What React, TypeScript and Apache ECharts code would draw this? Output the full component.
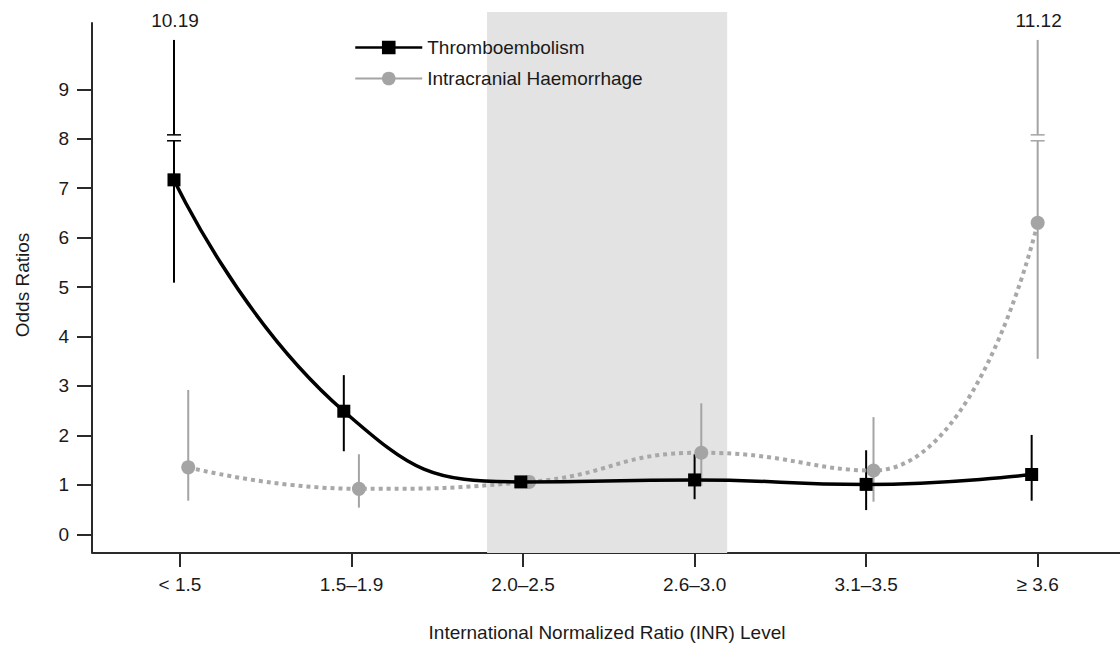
import React, { useEffect, useRef } from "react";
import * as echarts from "echarts";

// ---- data ----
const categories = ["< 1.5", "1.5–1.9", "2.0–2.5", "2.6–3.0", "3.1–3.5", "≥ 3.6"];
const categoryPos = [1, 2, 3, 4, 5, 6];

const teName = "Thromboembolism";
const teX = [0.965, 1.955, 2.987, 4.0, 5.0, 5.965];
const teOR = [7.17, 2.49, 1.06, 1.1, 1.01, 1.21];
const teLow = [5.09, 1.68, 0.98, 0.71, 0.49, 0.68];
const teHigh = [10.19, 3.22, 1.14, 1.62, 1.7, 2.01];

const ichName = "Intracranial Haemorrhage";
const ichX = [1.048, 2.043, 3.035, 4.039, 5.043, 6.0];
const ichOR = [1.355, 0.92, 1.06, 1.65, 1.29, 6.3];
const ichLow = [0.68, 0.54, 1.0, 0.98, 0.66, 3.55];
const ichHigh = [2.92, 1.62, 1.12, 2.65, 2.37, 11.12];

const therapeuticRange = [2.79, 4.19];
const yTicks = [0, 1, 2, 3, 4, 5, 6, 7, 8, 9];
const axisCap = 10;
const breakLow = 7.96;
const breakHigh = 8.08;

// axis extents
const X_MIN = 0.487;
const X_MAX = 6.48;
const Y_MIN = -0.378;
const Y_MAX = 10.565;
const Y_AXIS_TOP = 10.36;

const FONT = "'Liberation Sans', Arial, Helvetica, sans-serif";
const TEXT = "#1a1a1a";
const AXIS = "#2a2a2a";
const GREY = "#a4a4a4";

export default function App() {
  const ref = useRef<HTMLDivElement>(null);

  useEffect(() => {
    if (!ref.current) return;
    const chart = echarts.init(ref.current, null, { renderer: "svg" });

    const errData: any[] = [];
    teX.forEach((x, i) => errData.push([x, teLow[i], teHigh[i], 0]));
    ichX.forEach((x, i) => errData.push([x, ichLow[i], ichHigh[i], 1]));

    const option: any = {
      animation: false,
      textStyle: { fontFamily: FONT },
      grid: { left: 92, right: 0, top: 12, bottom: 96, containLabel: false },
      legend: {
        orient: "vertical",
        left: 349,
        top: 33,
        itemWidth: 67,
        itemHeight: 17,
        itemGap: 12,
        textStyle: { fontSize: 19, color: TEXT, fontFamily: FONT },
        data: [
          { name: teName, lineStyle: { type: "solid", width: 2.5 } },
          { name: ichName, lineStyle: { type: "solid", width: 2, color: GREY } },
        ],
      },
      xAxis: {
        type: "value",
        min: X_MIN,
        max: X_MAX,
        splitLine: { show: false },
        axisLine: { show: true, onZero: false, lineStyle: { color: AXIS, width: 2 } },
        axisTick: {
          show: true,
          length: 14,
          customValues: categoryPos,
          lineStyle: { color: AXIS, width: 2 },
        },
        axisLabel: {
          customValues: categoryPos,
          formatter: (v: number) => categories[Math.round(v) - 1] ?? "",
          margin: 22,
          fontSize: 19,
          color: TEXT,
          fontFamily: FONT,
        },
      },
      yAxis: {
        type: "value",
        min: Y_MIN,
        max: Y_MAX,
        splitLine: { show: false },
        axisLine: { show: false },
        axisTick: {
          show: true,
          length: 15,
          customValues: yTicks,
          lineStyle: { color: AXIS, width: 2 },
        },
        axisLabel: {
          customValues: yTicks,
          margin: 23,
          fontSize: 19,
          color: TEXT,
          fontFamily: FONT,
        },
      },
      graphic: [
        {
          type: "text",
          x: 607,
          y: 632,
          style: {
            text: "International Normalized Ratio (INR) Level",
            align: "center",
            verticalAlign: "middle",
            fontSize: 19,
            fill: TEXT,
            fontFamily: FONT,
          },
        },
        {
          type: "text",
          x: 22,
          y: 285,
          rotation: Math.PI / 2,
          style: {
            text: "Odds Ratios",
            align: "center",
            verticalAlign: "middle",
            fontSize: 19,
            fill: TEXT,
            fontFamily: FONT,
          },
        },
      ],
      series: [
        {
          name: "shade",
          type: "line",
          data: [],
          z: 0,
          silent: true,
          markArea: {
            silent: true,
            itemStyle: { color: "#e3e3e3" },
            data: [[{ coord: [therapeuticRange[0], Y_MIN] }, { coord: [therapeuticRange[1], Y_MAX] }]],
          },
        },
        {
          name: "errorbars",
          type: "custom",
          z: 1,
          silent: true,
          clip: false,
          data: errData,
          encode: { x: 0, y: [1, 2] },
          renderItem: (params: any, api: any) => {
            const x = api.value(0);
            const lo = api.value(1);
            const hi = api.value(2);
            const grp = api.value(3);
            const color = grp === 0 ? "#000" : GREY;
            const ls = { stroke: color, lineWidth: 2 };
            const pLo = api.coord([x, lo]);
            const children: any[] = [];
            if (hi > axisCap) {
              const pB1 = api.coord([x, breakLow]);
              const pB2 = api.coord([x, breakHigh]);
              const pTop = api.coord([x, axisCap]);
              children.push({ type: "line", shape: { x1: pLo[0], y1: pLo[1], x2: pB1[0], y2: pB1[1] }, style: ls });
              children.push({ type: "line", shape: { x1: pB2[0], y1: pB2[1], x2: pTop[0], y2: pTop[1] }, style: ls });
              children.push({ type: "line", shape: { x1: pB1[0] - 7, y1: pB1[1], x2: pB1[0] + 7, y2: pB1[1] }, style: { stroke: color, lineWidth: 1.5 } });
              children.push({ type: "line", shape: { x1: pB2[0] - 7, y1: pB2[1], x2: pB2[0] + 7, y2: pB2[1] }, style: { stroke: color, lineWidth: 1.5 } });
              children.push({
                type: "text",
                x: pTop[0] + 1,
                y: pTop[1] - 19,
                style: {
                  text: hi.toFixed(2),
                  align: "center",
                  verticalAlign: "middle",
                  fontSize: 19,
                  fill: TEXT,
                  fontFamily: FONT,
                },
              });
            } else {
              const pHi = api.coord([x, hi]);
              children.push({ type: "line", shape: { x1: pLo[0], y1: pLo[1], x2: pHi[0], y2: pHi[1] }, style: ls });
            }
            return { type: "group", children };
          },
          markLine: {
            silent: true,
            symbol: "none",
            label: { show: false },
            lineStyle: { color: AXIS, width: 2, type: "solid" },
            data: [[{ coord: [X_MIN, Y_MIN] }, { coord: [X_MIN, Y_AXIS_TOP] }]],
          },
        },
        {
          name: ichName,
          type: "line",
          z: 2,
          smooth: 0.5,
          data: ichX.map((x, i) => [x, ichOR[i]]),
          symbol: "circle",
          symbolSize: 14,
          itemStyle: { color: GREY },
          lineStyle: { color: "#a8a8a8", width: 4, type: [4, 4] },
        },
        {
          name: teName,
          type: "line",
          z: 3,
          smooth: 0.5,
          data: teX.map((x, i) => [x, teOR[i]]),
          symbol: "rect",
          symbolSize: 13,
          itemStyle: { color: "#000" },
          lineStyle: { color: "#000", width: 3.5 },
        },
      ],
    };

    chart.setOption(option);
    return () => chart.dispose();
  }, []);

  return (
    <div
      ref={ref}
      style={{ position: "absolute", left: 0, top: 0, width: 1120, height: 649, background: "#fff" }}
    />
  );
}
